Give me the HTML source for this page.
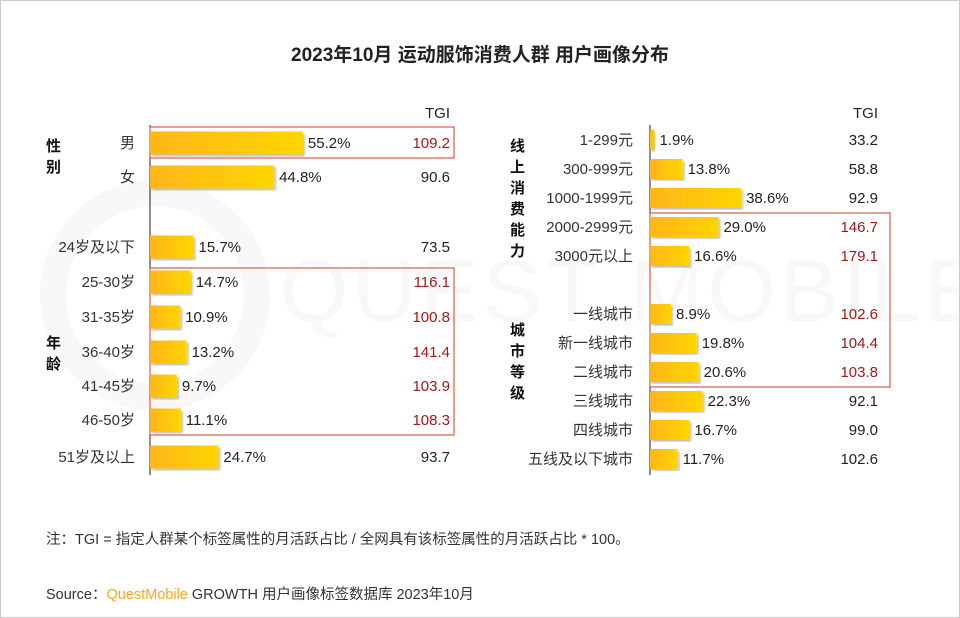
<!DOCTYPE html>
<html><head><meta charset="utf-8"><style>
body{margin:0;background:#fff;}
#root{position:relative;width:960px;height:618px;overflow:hidden;font-family:"Liberation Sans","Noto Sans CJK SC",sans-serif;color:#222;}
.t{position:absolute;white-space:nowrap;}
</style></head><body>
<div id="root">
<div class="t" style="left:0;width:960px;text-align:center;top:40px;font-size:19px;font-weight:bold;">2023年10月 运动服饰消费人群 用户画像分布</div>
<div style="position:absolute;left:40px;top:180px;width:230px;height:230px;border:26px solid #f8f8f8;border-radius:50%;box-sizing:border-box;"></div>
<div class="t" style="left:280px;top:240px;font-size:88px;color:#f8f8f8;letter-spacing:4px;">QUEST MOBILE</div>
<svg id="svg" width="960" height="618" style="position:absolute;left:0;top:0">
<defs><linearGradient id="g" x1="0" x2="1"><stop offset="0" stop-color="#ffb619"/><stop offset="1" stop-color="#ffd500"/></linearGradient>
<filter id="sh"><feDropShadow dx="2" dy="2" stdDeviation="1.2" flood-color="#000" flood-opacity="0.25"/></filter></defs>
</svg>
<div class="t" style="left:46px;top:528px;font-size:14.5px;color:#333;">注：TGI = 指定人群某个标签属性的月活跃占比 / 全网具有该标签属性的月活跃占比 * 100。</div>
<div class="t" style="left:46px;top:583px;font-size:14.5px;color:#333;">Source：<span style="color:#f7a823">QuestMobile</span> GROWTH 用户画像标签数据库 2023年10月</div>
</div>
<script>
const leftCats=["男","女","24岁及以下","25-30岁","31-35岁","36-40岁","41-45岁","46-50岁","51岁及以上"];
const leftVals=[55.2,44.8,15.7,14.7,10.9,13.2,9.7,11.1,24.7];
const leftTgi=["109.2","90.6","73.5","116.1","100.8","141.4","103.9","108.3","93.7"];
const leftHi=[1,0,0,1,1,1,1,1,0];
const rightCats=["1-299元","300-999元","1000-1999元","2000-2999元","3000元以上","一线城市","新一线城市","二线城市","三线城市","四线城市","五线及以下城市"];
const rightVals=[1.9,13.8,38.6,29.0,16.6,8.9,19.8,20.6,22.3,16.7,11.7];
const rightTgi=["33.2","58.8","92.9","146.7","179.1","102.6","104.4","103.8","92.1","99.0","102.6"];
const rightHi=[0,0,0,1,1,1,1,1,0,0,0];
const leftY=[143,177,247,282,317,352,386,420,457];
const rightY=[140,169,198,227,256,314,343,372,401,430,459];
const NS="http://www.w3.org/2000/svg";
const svg=document.getElementById('svg');
function mk(tag,attrs,txt){const e=document.createElementNS(NS,tag);for(const k in attrs)e.setAttribute(k,attrs[k]);if(txt!==undefined)e.textContent=txt;svg.appendChild(e);return e;}
function panel(cats,vals,tgi,hi,ys,x0,scale,bh,labelX,tgiX,boxR,side,axisTop,axisBot){
  const xs=v=>x0+v*scale;
  const a=mk('line',{x1:x0,x2:x0,y1:axisTop,y2:axisBot,stroke:'#222','stroke-width':1});
  
  const h=mk('text',{x:tgiX,y:118,'text-anchor':'end','font-size':15,fill:'#222'},'TGI');
  
  let i=0;
  while(i<cats.length){
    if(hi[i]){let j=i;while(j+1<cats.length&&hi[j+1])j++;
      const top=i===0?ys[0]-16:ys[i]-14, bot=ys[j]+15;
      const r=mk('rect',{x:x0,y:top,width:boxR-x0,height:bot-top,fill:'none',stroke:'#cf3e24','stroke-width':1});
      
      i=j+1;}else i++;
  }
  cats.forEach((c,k)=>{
    const y=ys[k];
    const b=mk('rect',{x:x0,y:y-bh/2,width:xs(vals[k])-x0,height:bh,fill:'url(#g)',filter:'url(#sh)',rx:1});
    
    const l=mk('text',{x:labelX,y:y+5,'text-anchor':'end','font-size':15,fill:'#333'},c);
    
    const v=mk('text',{x:xs(vals[k])+5,y:y+5,'font-size':15,fill:'#222'},vals[k].toFixed(1)+'%');
    
    const t=mk('text',{x:tgiX,y:y+5,'text-anchor':'end','font-size':15,fill:hi[k]?'#a01a1a':'#222'},tgi[k]);
    
  });
}
panel(leftCats,leftVals,leftTgi,leftHi,leftY,150,2.77,23,135,450,454,'left',125,475);
panel(rightCats,rightVals,rightTgi,rightHi,rightY,650,2.36,20,633,878,890,'right',125,475);
function group(chars,x,y0,step,name){
  chars.split('').forEach((ch,k)=>{const t=mk('text',{x:x,y:y0+k*step,'font-size':15,'font-weight':'bold',fill:'#111'},ch);
  });
}
group('性别',46,151,21,'gender-group-label');
group('年龄',46,348,21,'age-group-label');
group('线上消费能力',510,151,21,'spending-group-label');
group('城市等级',510,335,21,'city-tier-group-label');
const bd=mk('rect',{x:0.5,y:0.5,width:959,height:617,fill:'none',stroke:'#ccc'});

</script>
</body></html>
